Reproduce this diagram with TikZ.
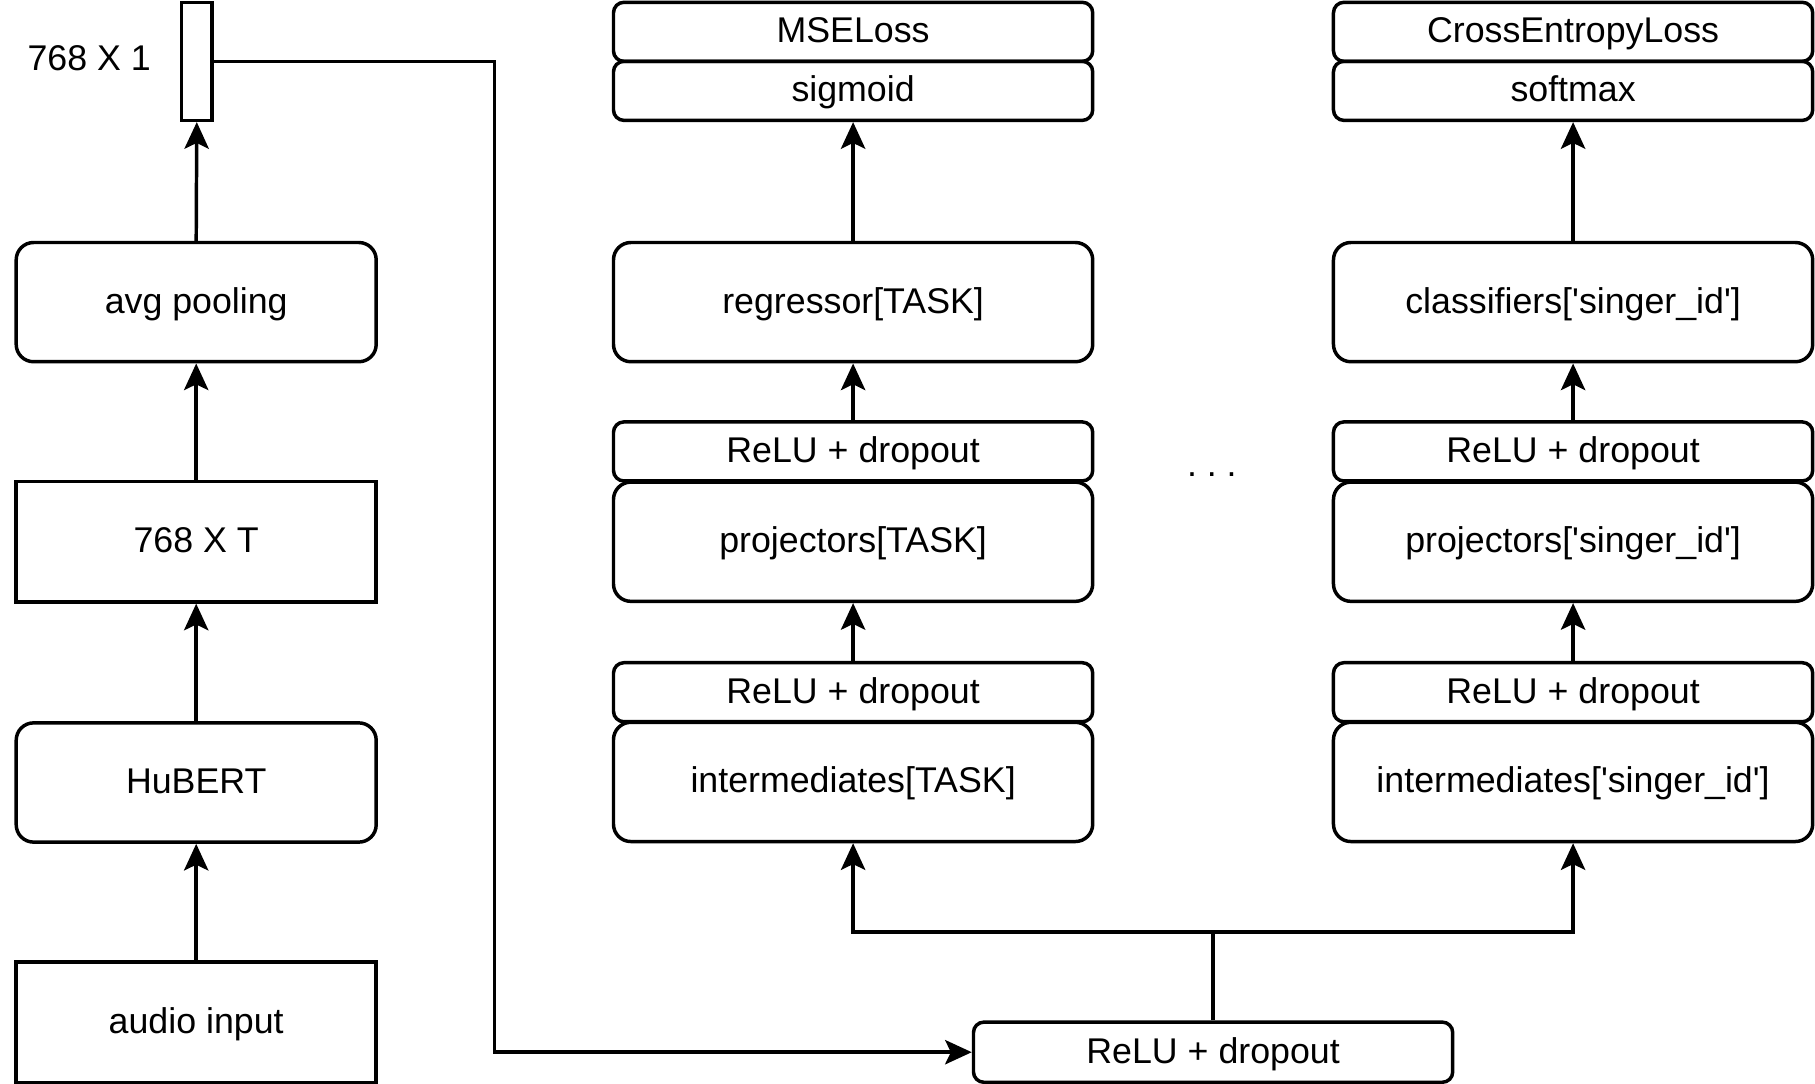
\documentclass[tikz,border=0pt]{standalone}
\usepackage{fontspec}
\setmainfont{Liberation Sans}
\usetikzlibrary{arrows.meta}
\begin{document}
\begin{tikzpicture}[x=1bp,y=-1bp,
  every node/.style={font=\fontsize{31}{37}\selectfont, inner sep=0pt, line width=3bp, text height=25bp, text depth=6bp},
  rbox/.style={draw, rounded corners=15bp, minimum width=414bp, minimum height=103bp},
  sbox/.style={draw, rounded corners=9bp, minimum width=414bp, minimum height=51bp},
  lrbox/.style={draw, rounded corners=15bp, minimum width=311bp, minimum height=103bp},
  sqbox/.style={draw, minimum width=311bp, minimum height=104bp},
  arr/.style={-{Stealth[length=23bp,width=21bp,inset=5bp]}, line width=3bp},
  con/.style={line width=3bp}
]
\useasboundingbox (0,0) rectangle (1568,936);
% left column
\node[draw, minimum width=26bp, minimum height=102bp] (vec) at (170,53) {};
\node (veclbl) at (77,51) {768 X 1};
\node[lrbox] (avg) at (169.5,261) {avg pooling};
\node[sqbox] (feat) at (169.5,468) {768 X T};
\node[lrbox] (hubert) at (169.5,676) {HuBERT};
\node[sqbox] (audio) at (169.5,883) {audio input};
\draw[arr] (audio.north) -- (hubert.south);
\draw[arr] (hubert.north) -- (feat.south);
\draw[arr] (feat.north) -- (avg.south);
\draw[arr] (avg.north) -- (vec.south);
% middle column
\node[sbox] (mse) at (737,27.5) {MSELoss};
\node[sbox] (sig) at (737,78.5) {sigmoid};
\node[rbox] (reg) at (737,261) {regressor[TASK]};
\node[sbox] (reluA1) at (737,390) {ReLU + dropout};
\node[rbox] (projA) at (737,468) {projectors[TASK]};
\node[sbox] (reluA2) at (737,598) {ReLU + dropout};
\node[rbox] (intA) at (737,675.5) {intermediates[TASK]};
\draw[arr] (reg.north) -- (sig.south);
\draw[arr] (reluA1.north) -- (reg.south);
\draw[arr] (reluA2.north) -- (projA.south);
% right column
\node[sbox] (ce) at (1359,27.5) {CrossEntropyLoss};
\node[sbox] (soft) at (1359,78.5) {softmax};
\node[rbox] (cls) at (1359,261) {classifiers[\textquotesingle singer\_id\textquotesingle]};
\node[sbox] (reluB1) at (1359,390) {ReLU + dropout};
\node[rbox] (projB) at (1359,468) {projectors[\textquotesingle singer\_id\textquotesingle]};
\node[sbox] (reluB2) at (1359,598) {ReLU + dropout};
\node[rbox] (intB) at (1359,675.5) {intermediates[\textquotesingle singer\_id\textquotesingle]};
\draw[arr] (cls.north) -- (soft.south);
\draw[arr] (reluB1.north) -- (cls.south);
\draw[arr] (reluB2.north) -- (projB.south);
% dots
\node[text height=, text depth=] (dots) at (1047,410) {.\hspace{8.5bp}.\hspace{8.5bp}.};
% bottom
\node[sbox, minimum height=52bp] (bot) at (1048,909) {ReLU + dropout};
\coordinate (turn) at (427,53);
\draw[arr] (vec.east) -- (turn) |- (bot.west);
\coordinate (split) at (1048,805);
\draw[con] (bot.north) -- (split);
\draw[arr] (split) -| (intA.south);
\draw[arr] (split) -| (intB.south);
\end{tikzpicture}
\end{document}
